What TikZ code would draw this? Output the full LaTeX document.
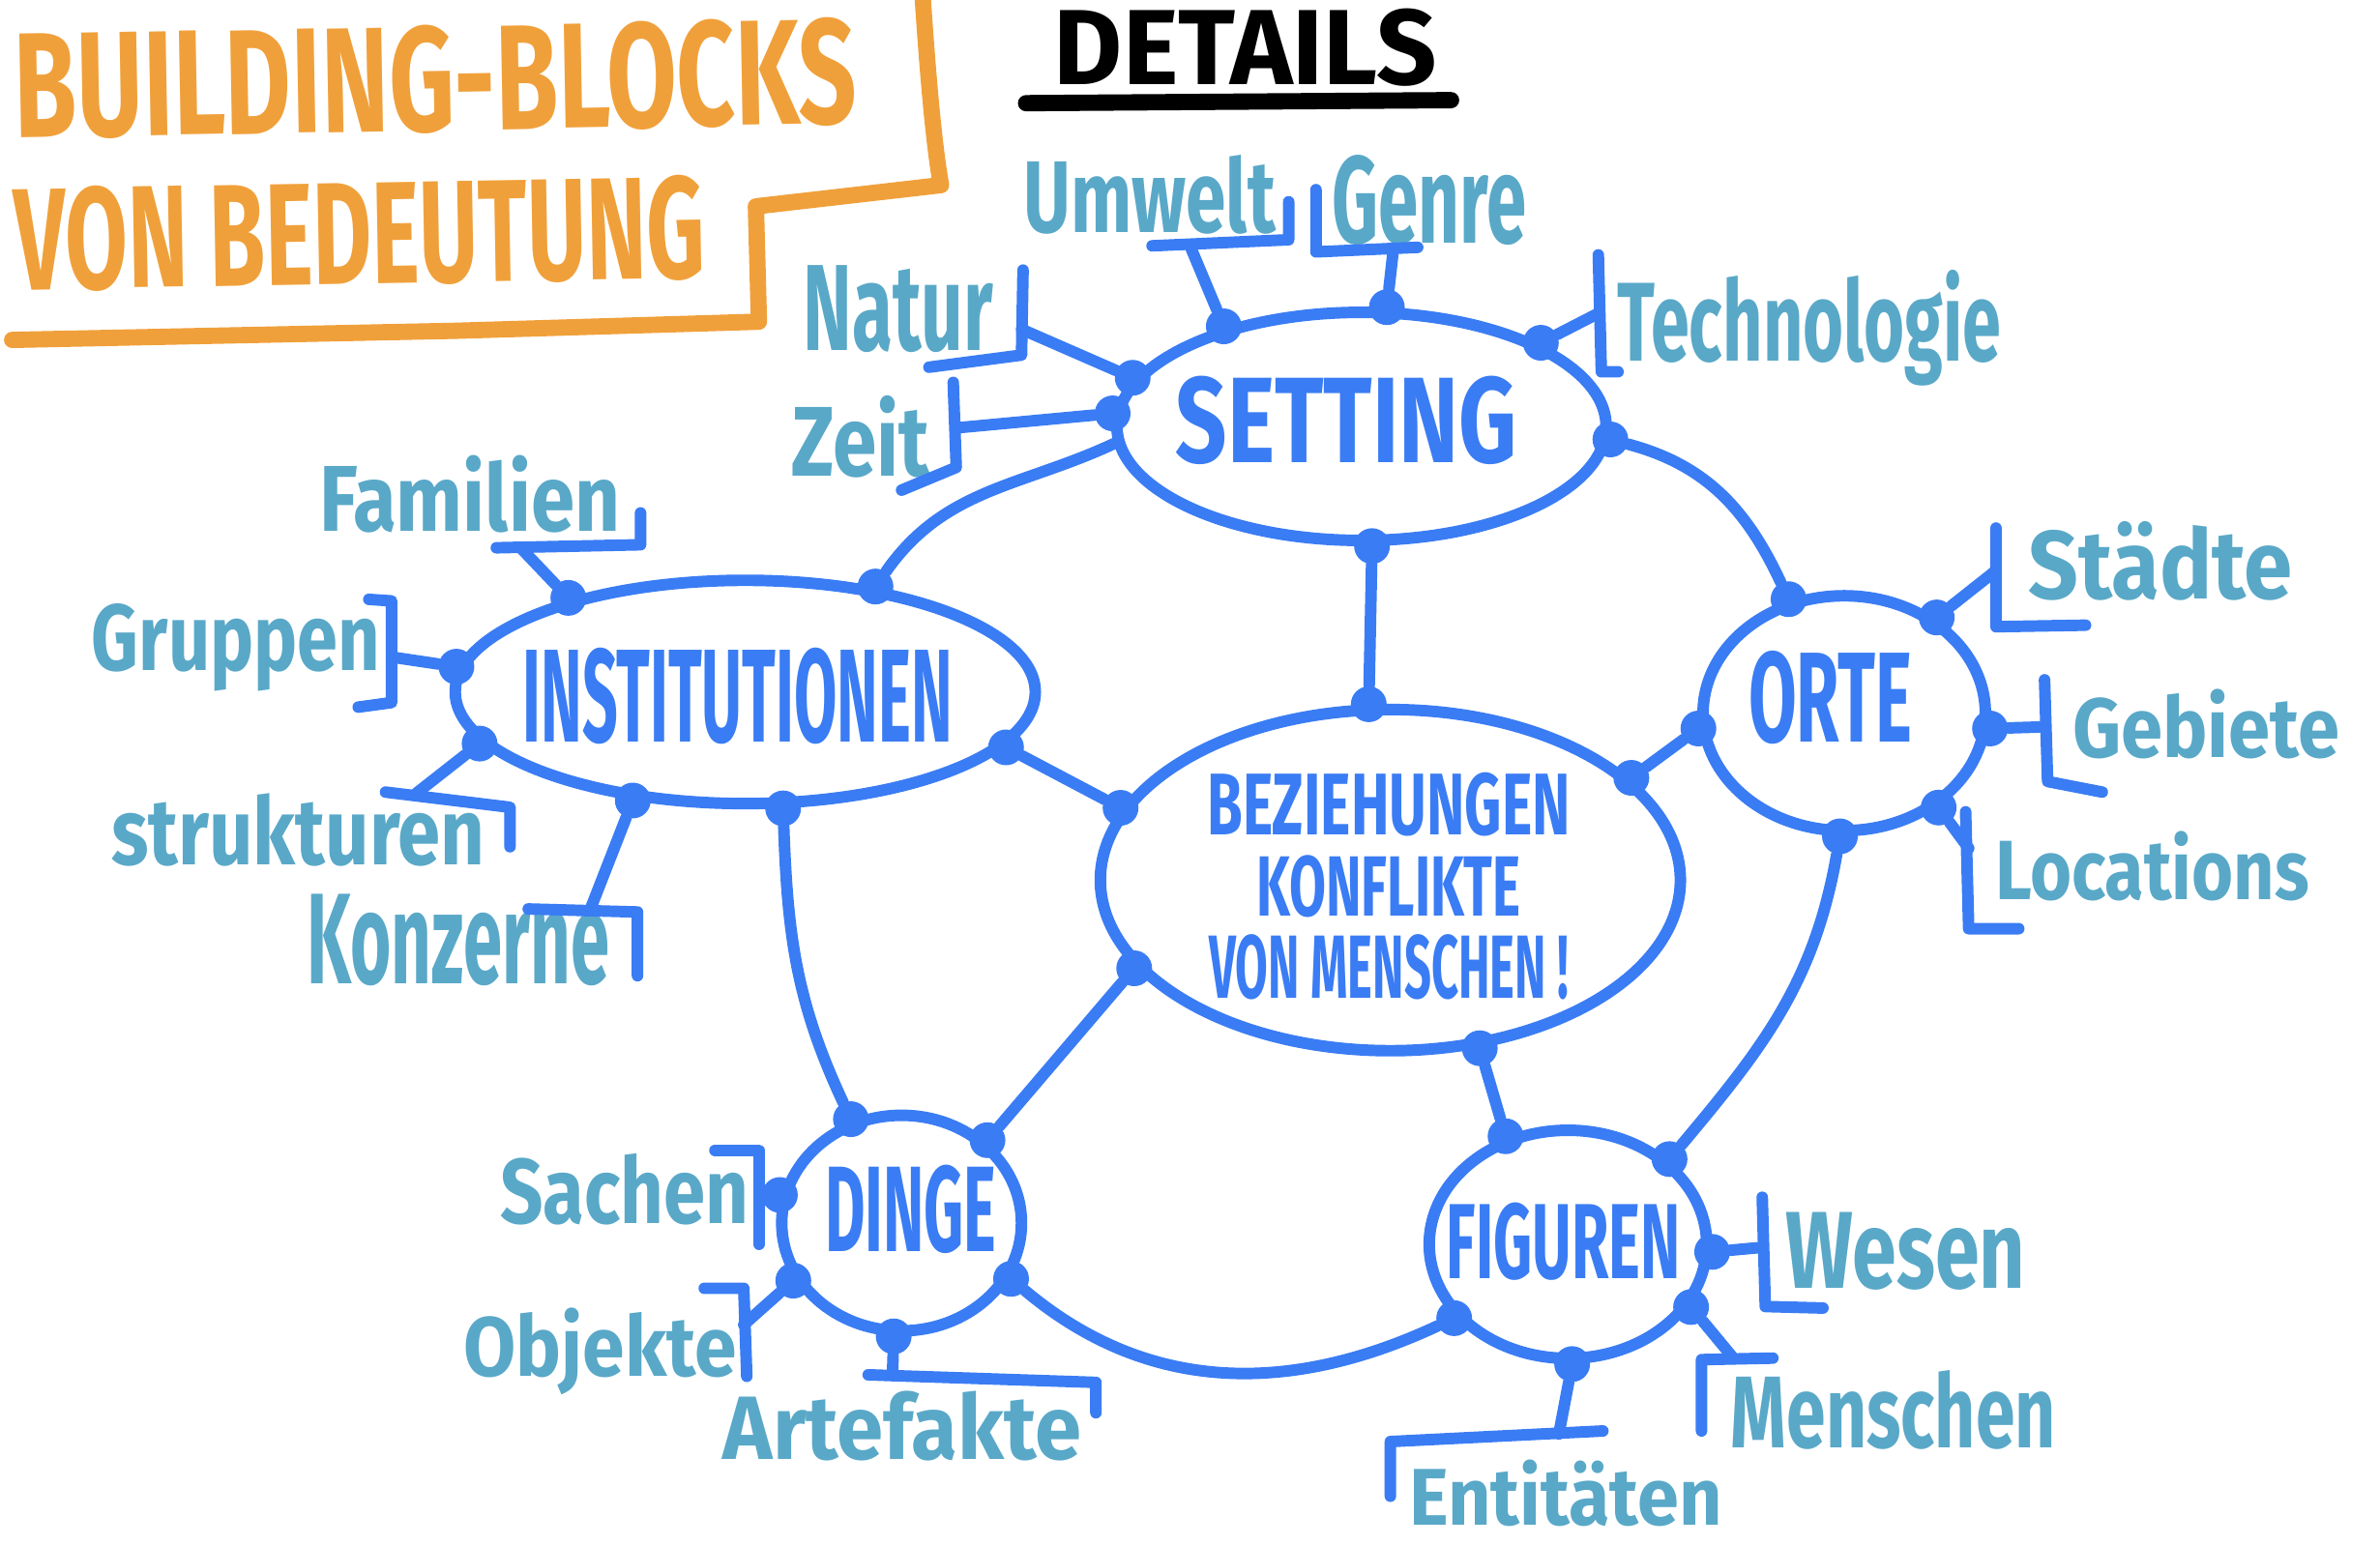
\documentclass[tikz,border=0pt]{standalone}
\usepackage{fontspec}
\setmainfont{Fira Sans}
\usepackage{graphicx}
\usetikzlibrary{shapes.geometric}
\definecolor{inkblue}{HTML}{3A7CF4}
\definecolor{inkteal}{HTML}{59A8C8}
\definecolor{inkorange}{HTML}{F0A03A}
\newlength{\du}
\setlength{\du}{0.0157cm}
\newcommand{\hw}[3]{\resizebox{#1\du}{#2\du}{#3}}
\tikzset{
  blob/.style={ellipse, draw=inkblue, line width=3.4pt, inner sep=0pt},
  blobtext/.style={text=inkblue, font=\bfseries, inner sep=0pt},
  dot/.style={circle, fill=inkblue, minimum size=0.37cm, inner sep=0pt},
  link/.style={draw=inkblue, line width=3.4pt, line cap=round, line join=round},
  tag/.style={text=inkteal, font=\bfseries, inner sep=0pt, anchor=base west},
  heading/.style={text=inkorange, font=\bfseries, inner sep=0pt}
}
\begin{document}
\begin{tikzpicture}[x=0.0157cm, y=-0.0157cm]
\useasboundingbox (0,0) rectangle (1568,1018);
% title
\draw[inkorange, line width=4.8pt, line cap=round, line join=round] (608,0) .. controls (612,60) and (616,100) .. (620,122) -- (498,136) -- (500,212) -- (300,218) -- (8,224);
\node[heading, rotate=1] (title1) at (287,52) {\hw{555}{70}{BUILDING-BLOCKS}};
\node[heading, rotate=1] (title2) at (237,154) {\hw{455}{68}{VON BEDEUTUNG}};
\node[inner sep=0pt, anchor=base west, font=\bfseries] (details) at (694,56) {\hw{252}{50}{DETAILS}};
\draw[line width=4.8pt, line cap=round] (676,68) -- (956,66);
% blobs
\node[blob, minimum width=5.06cm, minimum height=2.36cm] (set) at (897,281) {};
\node[blob, minimum width=6.0cm, minimum height=2.31cm] (inst) at (491,456) {};
\node[blob, minimum width=2.92cm, minimum height=2.43cm] (orte) at (1215,470) {};
\node[blob, minimum width=6.0cm, minimum height=3.53cm] (bez) at (916,580) {};
\node[blob, minimum width=2.48cm, minimum height=2.23cm] (dinge) at (594,806) {};
\node[blob, minimum width=2.87cm, minimum height=2.36cm] (fig) at (1033,820) {};
\node[blobtext] (set-text) at (887,277) {\hw{225}{57}{SETTING}};
\node[blobtext] (inst-text) at (486,459) {\hw{283}{62}{INSTITUTIONEN}};
\node[blobtext] (orte-text) at (1206,460) {\hw{108}{60}{ORTE}};
\node[blobtext, align=center, font=\bfseries\fontsize{20}{24}\selectfont] (bez-text) at (915,584) {\hw{239}{41}{BEZIEHUNGEN}\\\hw{174}{40}{KONFLIKTE}\\\hw{237}{42}{VON MENSCHEN !}};
\node[blobtext] (dinge-text) at (600,797) {\hw{113}{57}{DINGE}};
\node[blobtext] (fig-text) at (1030,818) {\hw{154}{50}{FIGUREN}};
% dots
\node[dot] (s-nat) at (set.168) {};
\node[dot] (s-zeit) at (set.177) {};
\node[dot] (s-umw) at (set.144) {};
\node[dot] (s-gen) at (set.78) {};
\node[dot] (s-tec) at (set.25) {};
\node[dot] (s-orte) at (set.-3) {};
\node[dot] (s-bez) at (set.-85) {};
\node[dot] (i-fam) at (inst.152) {};
\node[dot] (i-set) at (inst.39) {};
\node[dot] (i-grp) at (inst.175) {};
\node[dot] (i-str) at (inst.191) {};
\node[dot] (i-konz) at (inst.224) {};
\node[dot] (i-ding) at (inst.288) {};
\node[dot] (i-bez) at (inst.348) {};
\node[dot] (o-set) at (orte.116) {};
\node[dot] (o-sta) at (orte.46) {};
\node[dot] (o-geb) at (orte.354) {};
\node[dot] (o-loc) at (orte.315) {};
\node[dot] (o-fig) at (orte.268) {};
\node[dot] (o-bez) at (orte.186) {};
\node[dot] (b-set) at (bez.97) {};
\node[dot] (b-inst) at (bez.165) {};
\node[dot] (b-orte) at (bez.23) {};
\node[dot] (b-ding) at (bez.199) {};
\node[dot] (b-fig) at (bez.298) {};
\node[dot] (d-inst) at (dinge.116) {};
\node[dot] (d-bez) at (dinge.44) {};
\node[dot] (d-sach) at (dinge.167) {};
\node[dot] (d-obj) at (dinge.208) {};
\node[dot] (d-art) at (dinge.266) {};
\node[dot] (d-fig) at (dinge.333) {};
\node[dot] (f-bez) at (fig.120) {};
\node[dot] (f-orte) at (fig.40) {};
\node[dot] (f-wes) at (fig.357) {};
\node[dot] (f-men) at (fig.333) {};
\node[dot] (f-ent) at (fig.272) {};
\node[dot] (f-ding) at (fig.213) {};
% links between blobs
\draw[link] (set.184) to[out=205, in=55] (i-set);
\draw[link] (s-bez) -- (b-set);
\draw[link] (s-orte) to[out=-15, in=115] (o-set);
\draw[link] (i-bez) -- (b-inst);
\draw[link] (i-ding) to[out=-88, in=115] (d-inst);
\draw[link] (b-orte) -- (o-bez);
\draw[link] (b-ding) -- (d-bez);
\draw[link] (b-fig) -- (f-bez);
\draw[link] (o-fig) to[out=-100, in=50] (f-orte);
\draw[link] (d-fig) to[out=-40, in=205] (f-ding);
% setting details
\node[tag] (umwelt) at (674,153) {\hw{166}{51}{Umwelt}};
\coordinate (umwelt-k) at (784,162);
\draw[link] (759,162) -- (849,158) -- (849,133);
\draw[link] (s-umw) -- (umwelt-k);
\node[tag] (genre) at (877,160) {\hw{128}{58}{Genre}};
\coordinate (genre-k) at (918,164);
\draw[link] (867,125) -- (867,166) -- (934,163);
\draw[link] (s-gen) -- (genre-k);
\node[tag] (tech) at (1065,238) {\hw{253}{60}{Technologie}};
\coordinate (tech-k) at (1052,207);
\draw[link] (1053,168) -- (1055,245) -- (1066,245);
\draw[link] (s-tec) -- (tech-k);
\node[tag] (natur) at (529,231) {\hw{125}{56}{Natur}};
\coordinate (natur-k) at (673,217);
\draw[link] (674,178) -- (673,234) -- (612,242);
\draw[link] (s-nat) -- (natur-k);
\node[tag] (zeit) at (521,314) {\hw{91}{53}{Zeit}};
\coordinate (zeit-k) at (630,282);
\draw[link] (628,252) -- (630,308) -- (594,323);
\draw[link] (s-zeit) -- (zeit-k);
% institutionen details
\node[tag] (familien) at (210,350) {\hw{198}{50}{Familien}};
\coordinate (familien-k) at (343,361);
\draw[link] (327,361) -- (422,359) -- (422,338);
\draw[link] (i-fam) -- (familien-k);
\node[tag] (gruppen) at (60,442) {\hw{190}{44}{Gruppen}};
\coordinate (gruppen-k) at (258,433);
\draw[link] (243,395) -- (258,396) -- (258,463) -- (236,466);
\draw[link] (i-grp) -- (gruppen-k);
\node[tag] (strukturen) at (73,570) {\hw{246}{47}{strukturen}};
\coordinate (strukturen-k) at (274,523);
\draw[link] (254,522) -- (336,532) -- (336,558);
\draw[link] (i-str) -- (strukturen-k);
\node[tag] (konzerne) at (202,648) {\hw{199}{59}{Konzerne}};
\coordinate (konzerne-k) at (389,599);
\draw[link] (348,599) -- (420,601) -- (420,643);
\draw[link] (i-konz) -- (konzerne-k);
% orte details
\node[tag] (staedte) at (1336,395) {\hw{174}{51}{Städte}};
\coordinate (staedte-k) at (1315,376);
\draw[link] (1315,348) -- (1315,413) -- (1374,412);
\draw[link] (o-sta) -- (staedte-k);
\node[tag] (gebiete) at (1365,499) {\hw{176}{45}{Gebiete}};
\coordinate (gebiete-k) at (1347,479);
\draw[link] (1347,448) -- (1349,515) -- (1385,522);
\draw[link] (o-geb) -- (gebiete-k);
\node[tag] (locations) at (1314,593) {\hw{207}{45}{Locations}};
\coordinate (locations-k) at (1297,559);
\draw[link] (1295,535) -- (1297,612) -- (1330,612);
\draw[link] (o-loc) -- (locations-k);
% dinge details
\node[tag] (sachen) at (329,806) {\hw{164}{46}{Sachen}};
\coordinate (sachen-k) at (501,792);
\draw[link] (471,758) -- (500,758) -- (500,820);
\draw[link] (d-sach) -- (sachen-k);
\node[tag] (objekte) at (305,907) {\hw{180}{45}{Objekte}};
\coordinate (objekte-k) at (490,873);
\draw[link] (464,849) -- (490,849) -- (492,907);
\draw[link] (d-obj) -- (objekte-k);
\node[tag] (artefakte) at (476,962) {\hw{236}{45}{Artefakte}};
\coordinate (artefakte-k) at (588,906);
\draw[link] (572,906) -- (722,911) -- (722,931);
\draw[link] (d-art) -- (artefakte-k);
% figuren details
\node[tag] (wesen) at (1176,849) {\hw{158}{50}{Wesen}};
\coordinate (wesen-k) at (1161,822);
\draw[link] (1161,789) -- (1163,861) -- (1201,862);
\draw[link] (f-wes) -- (wesen-k);
\node[tag] (menschen) at (1140,954) {\hw{214}{51}{Menschen}};
\coordinate (menschen-k) at (1142,895);
\draw[link] (1121,943) -- (1121,896) -- (1168,895);
\draw[link] (f-men) -- (menschen-k);
\node[tag] (entitaeten) at (928,1005) {\hw{206}{43}{Entitäten}};
\coordinate (entitaeten-k) at (1027,945);
\draw[link] (916,986) -- (916,950) -- (1056,943);
\draw[link] (f-ent) -- (entitaeten-k);
\end{tikzpicture}
\end{document}
